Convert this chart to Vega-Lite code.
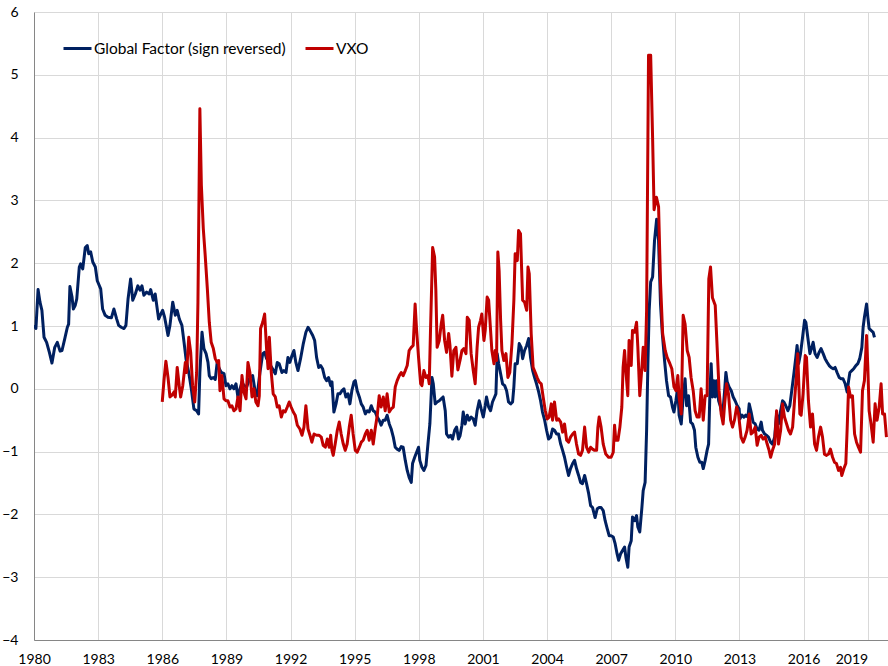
{
"$schema": "https://vega.github.io/schema/vega-lite/v6.json",
"width": 855, "height": 628,
"autosize": {"type": "none"},
"padding": {"left": 34, "top": 12, "right": 0, "bottom": 26},
"background": "white",
"config": {"view": {"stroke": null}, "font": "Lato"},
"datasets": {
"global": [
{"t":1980.00,"v":1.01},{"t":1980.09,"v":0.96},{"t":1980.19,"v":1.58},{"t":1980.28,"v":1.38},{"t":1980.37,"v":1.25},{"t":1980.47,"v":0.82},{"t":1980.59,"v":0.74},{"t":1980.72,"v":0.58},{"t":1980.84,"v":0.41},{"t":1980.97,"v":0.66},{"t":1981.09,"v":0.74},{"t":1981.22,"v":0.60},{"t":1981.31,"v":0.61},{"t":1981.44,"v":0.80},{"t":1981.56,"v":0.98},{"t":1981.62,"v":1.03},{"t":1981.68,"v":1.63},{"t":1981.78,"v":1.46},{"t":1981.84,"v":1.27},{"t":1981.93,"v":1.33},{"t":1982.00,"v":1.43},{"t":1982.12,"v":1.94},{"t":1982.18,"v":1.99},{"t":1982.28,"v":1.91},{"t":1982.40,"v":2.25},{"t":1982.49,"v":2.28},{"t":1982.56,"v":2.15},{"t":1982.65,"v":2.18},{"t":1982.75,"v":2.02},{"t":1982.87,"v":1.94},{"t":1982.96,"v":1.72},{"t":1983.12,"v":1.59},{"t":1983.21,"v":1.27},{"t":1983.33,"v":1.17},{"t":1983.46,"v":1.14},{"t":1983.62,"v":1.13},{"t":1983.74,"v":1.27},{"t":1983.87,"v":1.11},{"t":1983.96,"v":1.01},{"t":1984.08,"v":0.98},{"t":1984.21,"v":0.96},{"t":1984.30,"v":1.01},{"t":1984.40,"v":1.43},{"t":1984.52,"v":1.75},{"t":1984.62,"v":1.41},{"t":1984.74,"v":1.51},{"t":1984.86,"v":1.64},{"t":1984.96,"v":1.57},{"t":1985.05,"v":1.64},{"t":1985.14,"v":1.49},{"t":1985.27,"v":1.54},{"t":1985.39,"v":1.51},{"t":1985.46,"v":1.58},{"t":1985.58,"v":1.41},{"t":1985.67,"v":1.51},{"t":1985.83,"v":1.11},{"t":1985.93,"v":1.19},{"t":1986.02,"v":1.25},{"t":1986.11,"v":1.14},{"t":1986.21,"v":0.96},{"t":1986.27,"v":0.85},{"t":1986.36,"v":1.01},{"t":1986.49,"v":1.38},{"t":1986.61,"v":1.17},{"t":1986.70,"v":1.25},{"t":1986.80,"v":1.11},{"t":1986.92,"v":1.01},{"t":1987.02,"v":0.74},{"t":1987.11,"v":0.48},{"t":1987.24,"v":0.26},{"t":1987.36,"v":0.0},{"t":1987.48,"v":-0.32},{"t":1987.61,"v":-0.35},{"t":1987.70,"v":-0.40},{"t":1987.76,"v":0.26},{"t":1987.86,"v":0.90},{"t":1987.95,"v":0.64},{"t":1988.05,"v":0.56},{"t":1988.14,"v":0.42},{"t":1988.20,"v":0.21},{"t":1988.29,"v":0.16},{"t":1988.39,"v":0.18},{"t":1988.48,"v":0.15},{"t":1988.57,"v":0.42},{"t":1988.67,"v":0.32},{"t":1988.76,"v":0.26},{"t":1988.89,"v":0.24},{"t":1988.98,"v":0.05},{"t":1989.07,"v":0.08},{"t":1989.17,"v":0.0},{"t":1989.26,"v":0.05},{"t":1989.35,"v":0.0},{"t":1989.45,"v":0.08},{"t":1989.54,"v":-0.13},{"t":1989.64,"v":0.0},{"t":1989.73,"v":0.11},{"t":1989.82,"v":0.05},{"t":1989.95,"v":0.03},{"t":1990.10,"v":0.18},{"t":1990.23,"v":0.21},{"t":1990.35,"v":-0.05},{"t":1990.44,"v":-0.11},{"t":1990.57,"v":0.26},{"t":1990.70,"v":0.56},{"t":1990.79,"v":0.58},{"t":1990.88,"v":0.48},{"t":1990.98,"v":0.64},{"t":1991.07,"v":0.37},{"t":1991.16,"v":0.32},{"t":1991.29,"v":0.24},{"t":1991.38,"v":0.42},{"t":1991.47,"v":0.40},{"t":1991.60,"v":0.26},{"t":1991.69,"v":0.29},{"t":1991.79,"v":0.26},{"t":1991.88,"v":0.50},{"t":1991.97,"v":0.42},{"t":1992.07,"v":0.53},{"t":1992.16,"v":0.61},{"t":1992.25,"v":0.42},{"t":1992.35,"v":0.29},{"t":1992.47,"v":0.48},{"t":1992.60,"v":0.72},{"t":1992.72,"v":0.90},{"t":1992.82,"v":0.98},{"t":1992.91,"v":0.93},{"t":1993.04,"v":0.85},{"t":1993.13,"v":0.77},{"t":1993.22,"v":0.50},{"t":1993.32,"v":0.34},{"t":1993.41,"v":0.37},{"t":1993.50,"v":0.32},{"t":1993.60,"v":0.18},{"t":1993.69,"v":0.13},{"t":1993.78,"v":0.18},{"t":1993.88,"v":0.05},{"t":1993.94,"v":0.11},{"t":1994.03,"v":-0.37},{"t":1994.13,"v":-0.24},{"t":1994.22,"v":-0.08},{"t":1994.31,"v":-0.08},{"t":1994.41,"v":-0.03},{"t":1994.50,"v":0.0},{"t":1994.59,"v":-0.13},{"t":1994.69,"v":-0.08},{"t":1994.78,"v":-0.24},{"t":1994.87,"v":-0.03},{"t":1994.97,"v":0.11},{"t":1995.03,"v":0.13},{"t":1995.12,"v":-0.03},{"t":1995.22,"v":-0.13},{"t":1995.31,"v":-0.24},{"t":1995.40,"v":-0.29},{"t":1995.50,"v":-0.40},{"t":1995.59,"v":-0.35},{"t":1995.68,"v":-0.37},{"t":1995.78,"v":-0.27},{"t":1995.87,"v":-0.35},{"t":1995.96,"v":-0.37},{"t":1996.06,"v":-0.45},{"t":1996.15,"v":-0.50},{"t":1996.24,"v":-0.58},{"t":1996.34,"v":-0.50},{"t":1996.43,"v":-0.50},{"t":1996.52,"v":-0.42},{"t":1996.62,"v":-0.56},{"t":1996.71,"v":-0.64},{"t":1996.81,"v":-0.77},{"t":1996.90,"v":-0.93},{"t":1996.99,"v":-0.96},{"t":1997.09,"v":-0.98},{"t":1997.18,"v":-0.92},{"t":1997.27,"v":-0.93},{"t":1997.37,"v":-1.14},{"t":1997.46,"v":-1.30},{"t":1997.55,"v":-1.41},{"t":1997.65,"v":-1.49},{"t":1997.71,"v":-1.19},{"t":1997.81,"v":-1.09},{"t":1997.90,"v":-1.01},{"t":1997.99,"v":-0.93},{"t":1998.05,"v":-1.14},{"t":1998.15,"v":-1.25},{"t":1998.24,"v":-1.30},{"t":1998.34,"v":-1.22},{"t":1998.43,"v":-0.88},{"t":1998.52,"v":-0.56},{"t":1998.62,"v":0.18},{"t":1998.68,"v":0.08},{"t":1998.77,"v":-0.24},{"t":1998.86,"v":-0.21},{"t":1998.96,"v":-0.19},{"t":1999.05,"v":-0.16},{"t":1999.14,"v":-0.13},{"t":1999.24,"v":-0.35},{"t":1999.30,"v":-0.72},{"t":1999.40,"v":-0.77},{"t":1999.49,"v":-0.74},{"t":1999.58,"v":-0.80},{"t":1999.68,"v":-0.66},{"t":1999.77,"v":-0.61},{"t":1999.86,"v":-0.80},{"t":1999.93,"v":-0.75},{"t":2000.02,"v":-0.58},{"t":2000.08,"v":-0.37},{"t":2000.17,"v":-0.56},{"t":2000.27,"v":-0.42},{"t":2000.36,"v":-0.50},{"t":2000.45,"v":-0.45},{"t":2000.55,"v":-0.48},{"t":2000.64,"v":-0.58},{"t":2000.73,"v":-0.35},{"t":2000.83,"v":-0.19},{"t":2000.92,"v":-0.32},{"t":2001.02,"v":-0.45},{"t":2001.11,"v":-0.27},{"t":2001.17,"v":-0.13},{"t":2001.27,"v":-0.29},{"t":2001.36,"v":-0.35},{"t":2001.45,"v":-0.21},{"t":2001.55,"v":-0.13},{"t":2001.61,"v":-0.08},{"t":2001.67,"v":0.56},{"t":2001.74,"v":0.40},{"t":2001.83,"v":0.24},{"t":2001.92,"v":0.08},{"t":2002.02,"v":0.05},{"t":2002.11,"v":-0.03},{"t":2002.20,"v":-0.21},{"t":2002.30,"v":-0.24},{"t":2002.39,"v":-0.21},{"t":2002.45,"v":0.03},{"t":2002.51,"v":0.40},{"t":2002.61,"v":0.40},{"t":2002.70,"v":0.72},{"t":2002.79,"v":0.66},{"t":2002.86,"v":0.48},{"t":2002.95,"v":0.61},{"t":2003.05,"v":0.69},{"t":2003.14,"v":0.80},{"t":2003.23,"v":0.50},{"t":2003.33,"v":0.29},{"t":2003.42,"v":0.18},{"t":2003.51,"v":0.08},{"t":2003.61,"v":-0.05},{"t":2003.70,"v":-0.19},{"t":2003.79,"v":-0.37},{"t":2003.89,"v":-0.50},{"t":2003.98,"v":-0.66},{"t":2004.07,"v":-0.80},{"t":2004.17,"v":-0.77},{"t":2004.26,"v":-0.64},{"t":2004.35,"v":-0.66},{"t":2004.45,"v":-0.72},{"t":2004.54,"v":-0.72},{"t":2004.64,"v":-0.88},{"t":2004.73,"v":-0.98},{"t":2004.82,"v":-1.09},{"t":2004.92,"v":-1.25},{"t":2005.01,"v":-1.38},{"t":2005.10,"v":-1.27},{"t":2005.20,"v":-1.19},{"t":2005.29,"v":-1.14},{"t":2005.38,"v":-1.27},{"t":2005.48,"v":-1.38},{"t":2005.57,"v":-1.49},{"t":2005.66,"v":-1.51},{"t":2005.76,"v":-1.38},{"t":2005.85,"v":-1.51},{"t":2005.95,"v":-1.67},{"t":2006.04,"v":-1.86},{"t":2006.13,"v":-1.89},{"t":2006.25,"v":-2.05},{"t":2006.35,"v":-1.91},{"t":2006.44,"v":-1.89},{"t":2006.53,"v":-1.89},{"t":2006.63,"v":-1.94},{"t":2006.72,"v":-2.10},{"t":2006.82,"v":-2.23},{"t":2006.91,"v":-2.34},{"t":2007.00,"v":-2.34},{"t":2007.10,"v":-2.36},{"t":2007.19,"v":-2.47},{"t":2007.28,"v":-2.63},{"t":2007.35,"v":-2.73},{"t":2007.44,"v":-2.63},{"t":2007.54,"v":-2.57},{"t":2007.63,"v":-2.52},{"t":2007.69,"v":-2.68},{"t":2007.78,"v":-2.84},{"t":2007.84,"v":-2.52},{"t":2007.94,"v":-2.42},{"t":2008.00,"v":-2.04},{"t":2008.10,"v":-2.10},{"t":2008.19,"v":-2.02},{"t":2008.25,"v":-2.20},{"t":2008.34,"v":-2.28},{"t":2008.44,"v":-1.89},{"t":2008.50,"v":-1.62},{"t":2008.59,"v":-1.49},{"t":2008.66,"v":-0.66},{"t":2008.72,"v":0.40},{"t":2008.78,"v":1.25},{"t":2008.85,"v":1.70},{"t":2008.94,"v":1.78},{"t":2009.03,"v":2.36},{"t":2009.13,"v":2.70},{"t":2009.22,"v":2.36},{"t":2009.31,"v":1.35},{"t":2009.39,"v":0.90},{"t":2009.50,"v":0.45},{"t":2009.59,"v":0.13},{"t":2009.69,"v":-0.11},{"t":2009.78,"v":-0.13},{"t":2009.87,"v":-0.29},{"t":2009.94,"v":-0.37},{"t":2010.03,"v":-0.19},{"t":2010.12,"v":0.03},{"t":2010.18,"v":-0.42},{"t":2010.28,"v":-0.56},{"t":2010.37,"v":-0.13},{"t":2010.46,"v":0.16},{"t":2010.53,"v":-0.27},{"t":2010.62,"v":-0.11},{"t":2010.72,"v":-0.53},{"t":2010.81,"v":-0.56},{"t":2010.90,"v":-0.66},{"t":2010.96,"v":-0.93},{"t":2011.06,"v":-1.09},{"t":2011.15,"v":-1.17},{"t":2011.24,"v":-1.17},{"t":2011.31,"v":-1.27},{"t":2011.40,"v":-1.14},{"t":2011.49,"v":-0.98},{"t":2011.56,"v":-0.88},{"t":2011.62,"v":-0.08},{"t":2011.68,"v":0.40},{"t":2011.74,"v":-0.13},{"t":2011.81,"v":0.13},{"t":2011.87,"v":-0.13},{"t":2011.93,"v":0.13},{"t":2012.03,"v":-0.19},{"t":2012.12,"v":-0.29},{"t":2012.21,"v":-0.45},{"t":2012.31,"v":-0.03},{"t":2012.37,"v":0.26},{"t":2012.43,"v":0.11},{"t":2012.52,"v":0.03},{"t":2012.62,"v":-0.03},{"t":2012.71,"v":-0.13},{"t":2012.80,"v":-0.19},{"t":2012.90,"v":-0.27},{"t":2012.99,"v":-0.32},{"t":2013.02,"v":-0.48},{"t":2013.12,"v":-0.42},{"t":2013.21,"v":-0.45},{"t":2013.30,"v":-0.42},{"t":2013.40,"v":-0.45},{"t":2013.46,"v":-0.24},{"t":2013.55,"v":-0.37},{"t":2013.64,"v":-0.53},{"t":2013.74,"v":-0.56},{"t":2013.83,"v":-0.64},{"t":2013.92,"v":-0.66},{"t":2014.02,"v":-0.53},{"t":2014.08,"v":-0.66},{"t":2014.18,"v":-0.72},{"t":2014.27,"v":-0.74},{"t":2014.36,"v":-0.77},{"t":2014.46,"v":-0.85},{"t":2014.55,"v":-0.88},{"t":2014.65,"v":-0.77},{"t":2014.74,"v":-0.40},{"t":2014.83,"v":-0.56},{"t":2014.93,"v":-0.35},{"t":2015.02,"v":-0.19},{"t":2015.08,"v":-0.21},{"t":2015.17,"v":-0.27},{"t":2015.27,"v":-0.35},{"t":2015.36,"v":-0.27},{"t":2015.45,"v":-0.03},{"t":2015.55,"v":0.24},{"t":2015.64,"v":0.50},{"t":2015.70,"v":0.69},{"t":2015.77,"v":0.40},{"t":2015.86,"v":0.56},{"t":2015.95,"v":0.80},{"t":2016.05,"v":1.09},{"t":2016.11,"v":1.06},{"t":2016.20,"v":0.82},{"t":2016.30,"v":0.56},{"t":2016.39,"v":0.66},{"t":2016.45,"v":0.74},{"t":2016.54,"v":0.56},{"t":2016.64,"v":0.50},{"t":2016.73,"v":0.58},{"t":2016.82,"v":0.64},{"t":2016.92,"v":0.56},{"t":2017.01,"v":0.48},{"t":2017.11,"v":0.42},{"t":2017.20,"v":0.37},{"t":2017.29,"v":0.34},{"t":2017.39,"v":0.32},{"t":2017.48,"v":0.34},{"t":2017.57,"v":0.26},{"t":2017.67,"v":0.18},{"t":2017.76,"v":0.16},{"t":2017.85,"v":0.16},{"t":2017.95,"v":0.08},{"t":2018.04,"v":-0.05},{"t":2018.11,"v":0.13},{"t":2018.17,"v":0.26},{"t":2018.26,"v":0.29},{"t":2018.35,"v":0.32},{"t":2018.45,"v":0.37},{"t":2018.54,"v":0.40},{"t":2018.63,"v":0.48},{"t":2018.73,"v":0.66},{"t":2018.79,"v":0.98},{"t":2018.85,"v":1.14},{"t":2018.95,"v":1.35},{"t":2019.01,"v":1.14},{"t":2019.07,"v":0.96},{"t":2019.16,"v":0.93},{"t":2019.26,"v":0.90},{"t":2019.32,"v":0.82}
],
"vxo": [
{"t":1986.00,"v":-0.21},{"t":1986.08,"v":0.13},{"t":1986.17,"v":0.44},{"t":1986.27,"v":0.18},{"t":1986.36,"v":-0.13},{"t":1986.46,"v":-0.10},{"t":1986.55,"v":-0.05},{"t":1986.61,"v":-0.13},{"t":1986.70,"v":0.34},{"t":1986.80,"v":0.03},{"t":1986.86,"v":-0.13},{"t":1986.96,"v":0.05},{"t":1987.08,"v":0.42},{"t":1987.14,"v":0.26},{"t":1987.24,"v":0.82},{"t":1987.33,"v":0.58},{"t":1987.42,"v":0.05},{"t":1987.52,"v":-0.21},{"t":1987.61,"v":0.26},{"t":1987.67,"v":1.38},{"t":1987.76,"v":4.46},{"t":1987.83,"v":3.24},{"t":1987.92,"v":2.55},{"t":1988.01,"v":2.12},{"t":1988.11,"v":1.59},{"t":1988.20,"v":1.06},{"t":1988.29,"v":0.74},{"t":1988.39,"v":0.64},{"t":1988.48,"v":0.48},{"t":1988.57,"v":0.42},{"t":1988.64,"v":0.45},{"t":1988.70,"v":-0.03},{"t":1988.79,"v":0.21},{"t":1988.89,"v":-0.16},{"t":1988.98,"v":-0.19},{"t":1989.07,"v":-0.19},{"t":1989.17,"v":-0.29},{"t":1989.26,"v":-0.27},{"t":1989.35,"v":-0.35},{"t":1989.45,"v":-0.32},{"t":1989.54,"v":-0.13},{"t":1989.64,"v":-0.35},{"t":1989.73,"v":0.21},{"t":1989.82,"v":-0.05},{"t":1989.92,"v":-0.16},{"t":1990.01,"v":0.42},{"t":1990.10,"v":0.26},{"t":1990.20,"v":-0.13},{"t":1990.29,"v":0.0},{"t":1990.38,"v":-0.21},{"t":1990.48,"v":-0.27},{"t":1990.54,"v":-0.11},{"t":1990.60,"v":0.96},{"t":1990.70,"v":1.06},{"t":1990.79,"v":1.19},{"t":1990.88,"v":0.64},{"t":1990.95,"v":0.32},{"t":1991.01,"v":0.82},{"t":1991.10,"v":0.26},{"t":1991.19,"v":-0.08},{"t":1991.29,"v":-0.13},{"t":1991.38,"v":-0.29},{"t":1991.47,"v":-0.27},{"t":1991.57,"v":-0.45},{"t":1991.66,"v":-0.35},{"t":1991.75,"v":-0.37},{"t":1991.85,"v":-0.29},{"t":1991.94,"v":-0.21},{"t":1992.03,"v":-0.29},{"t":1992.13,"v":-0.37},{"t":1992.22,"v":-0.42},{"t":1992.32,"v":-0.58},{"t":1992.44,"v":-0.64},{"t":1992.54,"v":-0.74},{"t":1992.63,"v":-0.61},{"t":1992.72,"v":-0.27},{"t":1992.82,"v":-0.64},{"t":1992.91,"v":-0.74},{"t":1993.00,"v":-0.85},{"t":1993.10,"v":-0.72},{"t":1993.22,"v":-0.74},{"t":1993.34,"v":-0.74},{"t":1993.44,"v":-0.77},{"t":1993.53,"v":-0.90},{"t":1993.63,"v":-0.93},{"t":1993.72,"v":-0.80},{"t":1993.81,"v":-0.93},{"t":1993.88,"v":-0.74},{"t":1993.94,"v":-0.98},{"t":1994.00,"v":-1.06},{"t":1994.09,"v":-0.88},{"t":1994.19,"v":-0.66},{"t":1994.28,"v":-0.53},{"t":1994.37,"v":-0.72},{"t":1994.47,"v":-0.88},{"t":1994.56,"v":-0.98},{"t":1994.65,"v":-0.88},{"t":1994.75,"v":-0.61},{"t":1994.84,"v":-0.42},{"t":1994.93,"v":-0.72},{"t":1995.03,"v":-0.98},{"t":1995.12,"v":-1.01},{"t":1995.22,"v":-0.93},{"t":1995.31,"v":-0.85},{"t":1995.40,"v":-0.82},{"t":1995.50,"v":-0.72},{"t":1995.59,"v":-0.66},{"t":1995.68,"v":-0.82},{"t":1995.78,"v":-0.66},{"t":1995.87,"v":-0.88},{"t":1995.96,"v":-0.64},{"t":1996.06,"v":-0.42},{"t":1996.15,"v":-0.11},{"t":1996.24,"v":-0.29},{"t":1996.34,"v":-0.13},{"t":1996.43,"v":-0.35},{"t":1996.52,"v":-0.08},{"t":1996.62,"v":-0.37},{"t":1996.71,"v":-0.32},{"t":1996.81,"v":-0.29},{"t":1996.90,"v":0.03},{"t":1996.99,"v":0.13},{"t":1997.09,"v":0.21},{"t":1997.18,"v":0.26},{"t":1997.27,"v":0.21},{"t":1997.37,"v":0.29},{"t":1997.46,"v":0.37},{"t":1997.55,"v":0.61},{"t":1997.65,"v":0.66},{"t":1997.74,"v":0.69},{"t":1997.83,"v":1.35},{"t":1997.90,"v":0.93},{"t":1997.99,"v":0.50},{"t":1998.09,"v":0.08},{"t":1998.15,"v":0.05},{"t":1998.24,"v":0.29},{"t":1998.34,"v":0.18},{"t":1998.43,"v":0.21},{"t":1998.49,"v":0.08},{"t":1998.55,"v":0.93},{"t":1998.65,"v":2.25},{"t":1998.74,"v":2.10},{"t":1998.80,"v":1.57},{"t":1998.86,"v":0.66},{"t":1998.96,"v":0.77},{"t":1999.05,"v":1.03},{"t":1999.12,"v":1.17},{"t":1999.21,"v":0.77},{"t":1999.30,"v":0.58},{"t":1999.40,"v":0.88},{"t":1999.46,"v":0.69},{"t":1999.55,"v":0.20},{"t":1999.64,"v":0.61},{"t":1999.74,"v":0.66},{"t":1999.83,"v":0.30},{"t":1999.93,"v":0.45},{"t":2000.02,"v":0.61},{"t":2000.11,"v":0.64},{"t":2000.21,"v":0.56},{"t":2000.27,"v":1.14},{"t":2000.36,"v":1.09},{"t":2000.45,"v":0.56},{"t":2000.55,"v":0.29},{"t":2000.64,"v":0.08},{"t":2000.73,"v":0.66},{"t":2000.80,"v":0.98},{"t":2000.89,"v":1.09},{"t":2000.95,"v":1.19},{"t":2001.05,"v":0.77},{"t":2001.11,"v":0.93},{"t":2001.20,"v":1.46},{"t":2001.27,"v":1.41},{"t":2001.36,"v":0.93},{"t":2001.42,"v":0.61},{"t":2001.52,"v":0.40},{"t":2001.58,"v":0.61},{"t":2001.64,"v":0.45},{"t":2001.70,"v":2.18},{"t":2001.76,"v":1.88},{"t":2001.83,"v":1.09},{"t":2001.89,"v":0.61},{"t":2001.98,"v":0.45},{"t":2002.08,"v":0.56},{"t":2002.17,"v":0.18},{"t":2002.26,"v":0.26},{"t":2002.36,"v":0.72},{"t":2002.45,"v":1.41},{"t":2002.51,"v":2.15},{"t":2002.61,"v":2.04},{"t":2002.67,"v":2.52},{"t":2002.76,"v":2.47},{"t":2002.86,"v":1.41},{"t":2002.95,"v":1.38},{"t":2003.05,"v":1.25},{"t":2003.11,"v":1.94},{"t":2003.17,"v":1.83},{"t":2003.26,"v":0.88},{"t":2003.35,"v":0.34},{"t":2003.45,"v":0.26},{"t":2003.54,"v":0.18},{"t":2003.63,"v":0.11},{"t":2003.73,"v":0.08},{"t":2003.82,"v":-0.13},{"t":2003.92,"v":-0.35},{"t":2004.01,"v":-0.48},{"t":2004.10,"v":-0.45},{"t":2004.20,"v":-0.24},{"t":2004.26,"v":-0.50},{"t":2004.35,"v":-0.21},{"t":2004.45,"v":-0.50},{"t":2004.54,"v":-0.48},{"t":2004.64,"v":-0.53},{"t":2004.73,"v":-0.69},{"t":2004.82,"v":-0.56},{"t":2004.92,"v":-0.82},{"t":2005.01,"v":-0.85},{"t":2005.10,"v":-0.77},{"t":2005.20,"v":-0.72},{"t":2005.29,"v":-0.69},{"t":2005.38,"v":-0.88},{"t":2005.48,"v":-1.04},{"t":2005.57,"v":-1.06},{"t":2005.66,"v":-0.98},{"t":2005.76,"v":-0.61},{"t":2005.85,"v":-0.93},{"t":2005.95,"v":-1.01},{"t":2006.04,"v":-0.93},{"t":2006.13,"v":-0.96},{"t":2006.23,"v":-0.98},{"t":2006.32,"v":-0.98},{"t":2006.38,"v":-0.61},{"t":2006.44,"v":-0.45},{"t":2006.53,"v":-0.61},{"t":2006.63,"v":-0.88},{"t":2006.75,"v":-1.04},{"t":2006.88,"v":-1.09},{"t":2007.00,"v":-1.09},{"t":2007.10,"v":-1.01},{"t":2007.16,"v":-0.58},{"t":2007.22,"v":-0.82},{"t":2007.32,"v":-0.82},{"t":2007.41,"v":-0.61},{"t":2007.50,"v":-0.29},{"t":2007.56,"v":0.34},{"t":2007.63,"v":0.61},{"t":2007.69,"v":0.29},{"t":2007.78,"v":-0.11},{"t":2007.84,"v":0.77},{"t":2007.94,"v":0.37},{"t":2008.00,"v":0.93},{"t":2008.10,"v":0.90},{"t":2008.19,"v":1.06},{"t":2008.25,"v":0.66},{"t":2008.34,"v":-0.11},{"t":2008.44,"v":0.34},{"t":2008.50,"v":0.66},{"t":2008.59,"v":0.29},{"t":2008.66,"v":1.25},{"t":2008.75,"v":5.31},{"t":2008.85,"v":5.31},{"t":2008.94,"v":4.00},{"t":2009.01,"v":2.85},{"t":2009.12,"v":3.05},{"t":2009.22,"v":2.90},{"t":2009.31,"v":1.70},{"t":2009.41,"v":0.88},{"t":2009.53,"v":0.61},{"t":2009.62,"v":0.50},{"t":2009.75,"v":0.40},{"t":2009.84,"v":0.32},{"t":2009.94,"v":0.03},{"t":2010.03,"v":-0.03},{"t":2010.12,"v":0.21},{"t":2010.18,"v":-0.13},{"t":2010.28,"v":-0.40},{"t":2010.37,"v":1.17},{"t":2010.46,"v":1.03},{"t":2010.56,"v":0.61},{"t":2010.65,"v":0.50},{"t":2010.74,"v":0.18},{"t":2010.84,"v":-0.03},{"t":2010.93,"v":-0.35},{"t":2011.02,"v":-0.45},{"t":2011.12,"v":-0.45},{"t":2011.21,"v":0.0},{"t":2011.31,"v":-0.50},{"t":2011.40,"v":-0.11},{"t":2011.49,"v":-0.11},{"t":2011.57,"v":1.75},{"t":2011.65,"v":1.94},{"t":2011.74,"v":1.45},{"t":2011.87,"v":1.33},{"t":2011.96,"v":0.66},{"t":2012.05,"v":-0.03},{"t":2012.15,"v":-0.40},{"t":2012.24,"v":-0.56},{"t":2012.31,"v":-0.24},{"t":2012.40,"v":0.08},{"t":2012.49,"v":-0.08},{"t":2012.59,"v":-0.50},{"t":2012.68,"v":-0.61},{"t":2012.77,"v":-0.50},{"t":2012.87,"v":-0.29},{"t":2012.96,"v":-0.40},{"t":2013.08,"v":-0.77},{"t":2013.18,"v":-0.85},{"t":2013.27,"v":-0.77},{"t":2013.36,"v":-0.66},{"t":2013.46,"v":-0.40},{"t":2013.55,"v":-0.72},{"t":2013.64,"v":-0.69},{"t":2013.74,"v":-0.61},{"t":2013.83,"v":-0.90},{"t":2013.92,"v":-0.77},{"t":2014.02,"v":-0.74},{"t":2014.11,"v":-0.80},{"t":2014.21,"v":-0.77},{"t":2014.30,"v":-0.88},{"t":2014.39,"v":-0.98},{"t":2014.46,"v":-1.09},{"t":2014.55,"v":-0.98},{"t":2014.65,"v":-0.88},{"t":2014.74,"v":-0.35},{"t":2014.83,"v":-0.88},{"t":2014.93,"v":-0.66},{"t":2015.02,"v":-0.24},{"t":2015.11,"v":-0.45},{"t":2015.21,"v":-0.56},{"t":2015.30,"v":-0.66},{"t":2015.39,"v":-0.72},{"t":2015.49,"v":-0.61},{"t":2015.58,"v":-0.19},{"t":2015.67,"v":0.21},{"t":2015.73,"v":0.56},{"t":2015.83,"v":-0.40},{"t":2015.89,"v":-0.42},{"t":2015.98,"v":-0.08},{"t":2016.08,"v":0.53},{"t":2016.14,"v":0.50},{"t":2016.23,"v":-0.19},{"t":2016.33,"v":-0.61},{"t":2016.42,"v":-0.40},{"t":2016.52,"v":-0.88},{"t":2016.61,"v":-0.98},{"t":2016.70,"v":-0.77},{"t":2016.80,"v":-0.61},{"t":2016.89,"v":-0.77},{"t":2016.98,"v":-1.04},{"t":2017.08,"v":-1.06},{"t":2017.17,"v":-1.04},{"t":2017.26,"v":-0.96},{"t":2017.36,"v":-1.09},{"t":2017.45,"v":-1.17},{"t":2017.54,"v":-1.19},{"t":2017.64,"v":-1.30},{"t":2017.73,"v":-1.25},{"t":2017.79,"v":-1.38},{"t":2017.89,"v":-1.27},{"t":2017.98,"v":-1.19},{"t":2018.04,"v":-0.66},{"t":2018.11,"v":0.03},{"t":2018.20,"v":-0.13},{"t":2018.29,"v":-0.11},{"t":2018.39,"v":-0.72},{"t":2018.48,"v":-0.85},{"t":2018.57,"v":-0.93},{"t":2018.67,"v":-1.01},{"t":2018.76,"v":-0.03},{"t":2018.85,"v":0.13},{"t":2018.95,"v":0.85},{"t":2019.01,"v":0.34},{"t":2019.07,"v":-0.35},{"t":2019.16,"v":-0.56},{"t":2019.26,"v":-0.85},{"t":2019.35,"v":-0.24},{"t":2019.44,"v":-0.50},{"t":2019.54,"v":-0.29},{"t":2019.63,"v":0.08},{"t":2019.70,"v":-0.40},{"t":2019.79,"v":-0.40},{"t":2019.88,"v":-0.77}
]
},
"encoding": {
  "x": {"field": "t", "type": "quantitative",
    "scale": {"domain": [1980, 2020], "nice": false, "zero": false},
    "axis": {"title": null, "values": [1980,1983,1986,1989,1992,1995,1998,2001,2004,2007,2010,2013,2016,2019],
      "format": "d", "grid": true, "gridColor": "#D9D9D9", "gridWidth": 1, "ticks": false,
      "domainColor": "#868686", "domainWidth": 1, "labelPadding": 12, "labelFlush": false,
      "labelFont": "Lato", "labelFontSize": 14, "labelColor": "#000000",
      "labelAlign": {"condition": {"test": "datum.value === 2019", "value": "right"}, "value": "center"}}},
  "y": {"field": "v", "type": "quantitative",
    "scale": {"domain": [-4, 6], "nice": false, "zero": false},
    "axis": {"title": null, "values": [-4,-3,-2,-1,0,1,2,3,4,5,6], "format": "d",
      "grid": true, "gridColor": "#D9D9D9", "gridWidth": 1, "ticks": false,
      "domainColor": "#868686", "domainWidth": 1, "labelPadding": 16,
      "labelFont": "Lato", "labelFontSize": 14, "labelColor": "#000000"}}
},
"layer": [
  {"data": {"name": "global"},
   "mark": {"type": "line", "strokeWidth": 3, "clip": true, "strokeJoin": "round"},
   "encoding": {"color": {"datum": "Global Factor (sign reversed)", "type": "nominal",
     "scale": {"domain": ["Global Factor (sign reversed)", "VXO"], "range": ["#002060", "#C00000"]},
     "legend": {"orient": "none", "legendX": 28, "legendY": 21, "direction": "horizontal", "title": null,
       "symbolType": "stroke", "symbolSize": 784, "symbolStrokeWidth": 3, "labelFont": "Lato",
       "labelFontSize": 15.5, "labelColor": "#000000", "labelOffset": 1, "labelLimit": 0, "columnPadding": 13, "padding": 0}}}},
  {"data": {"name": "vxo"},
   "mark": {"type": "line", "strokeWidth": 3, "clip": true, "strokeJoin": "round"},
   "encoding": {"color": {"datum": "VXO", "type": "nominal"}}}
]
}
